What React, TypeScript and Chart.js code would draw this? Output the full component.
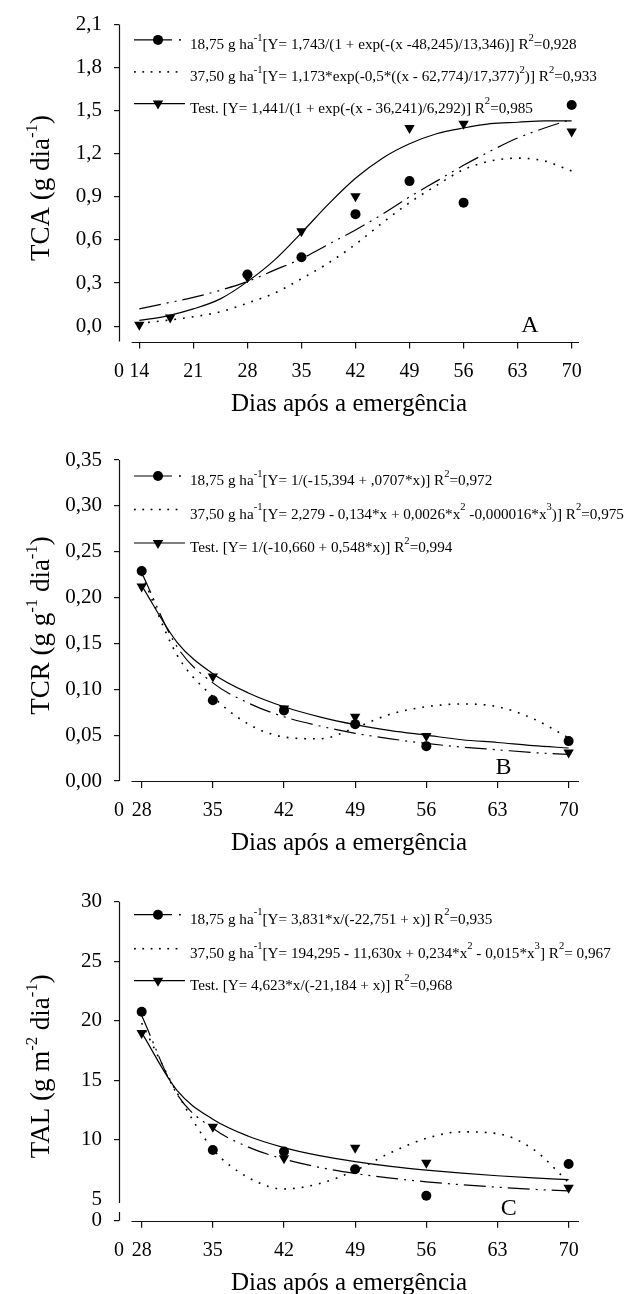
import React, { useEffect, useRef } from "react";
import { Chart, registerables } from "chart.js";

Chart.register(...registerables);

const FAMILY = "'Liberation Serif', 'Times New Roman', Times, serif";

// ---------------- Panel A : TCA ----------------
const tcaFitDays = [14, 17.5, 21, 24.5, 28, 31.5, 35, 38.5, 42, 45.5, 49, 52.5, 56, 59.5, 63, 66.5, 70];
const tcaDays1875 = [28, 35, 42, 49, 56, 70];
const tca1875 = [0.36, 0.48, 0.78, 1.01, 0.86, 1.54];
const tcaDaysTest = [14, 18, 28, 35, 42, 49, 56, 70];
const tcaTest = [0.01, 0.06, 0.34, 0.66, 0.905, 1.38, 1.41, 1.355];
const tcaFit1875 = [0.12, 0.16, 0.2, 0.25, 0.31, 0.39, 0.47, 0.57, 0.67, 0.78, 0.9, 1.01, 1.12, 1.22, 1.31, 1.38, 1.44];
const tcaFit3750 = [0.02, 0.04, 0.065, 0.1, 0.16, 0.23, 0.33, 0.44, 0.57, 0.72, 0.86, 0.98, 1.09, 1.15, 1.17, 1.15, 1.08];
const tcaFitTest = [0.04, 0.07, 0.12, 0.19, 0.31, 0.46, 0.65, 0.85, 1.03, 1.17, 1.27, 1.34, 1.38, 1.41, 1.42, 1.43, 1.43];
const tcaXTicks = [14, 21, 28, 35, 42, 49, 56, 63, 70];
const tcaYTicks = [0, 0.3, 0.6, 0.9, 1.2, 1.5, 1.8, 2.1];
const tcaLegend = [
  "18,75 g ha^{-1}[Y= 1,743/(1 + exp(-(x -48,245)/13,346)] R^{2}=0,928",
  "37,50 g ha^{-1}[Y= 1,173*exp(-0,5*((x - 62,774)/17,377)^{2})] R^{2}=0,933",
  "Test. [Y= 1,441/(1 + exp(-(x - 36,241)/6,292)] R^{2}=0,985",
];

// ---------------- Panels B and C share days ----------------
const bcObsDays = [28, 35, 42, 49, 56, 70];
const bcFitDays = [28, 31.5, 35, 38.5, 42, 45.5, 49, 52.5, 56, 59.5, 63, 66.5, 70];
const bcXTicks = [28, 35, 42, 49, 56, 63, 70];

// ---------------- Panel B : TCR ----------------
const tcr1875 = [0.229, 0.088, 0.077, 0.062, 0.038, 0.0435];
const tcrTest = [0.212, 0.114, 0.079, 0.07, 0.049, 0.031];
const tcrFit1875 = [0.227, 0.146, 0.107, 0.085, 0.07, 0.06, 0.052, 0.046, 0.041, 0.037, 0.034, 0.031, 0.029];
const tcrFit3750 = [0.225, 0.137, 0.092, 0.062, 0.048, 0.046, 0.058, 0.073, 0.081, 0.084, 0.081, 0.068, 0.047];
const tcrFitTest = [0.213, 0.151, 0.117, 0.096, 0.081, 0.07, 0.0615, 0.055, 0.05, 0.045, 0.042, 0.0385, 0.036];
const tcrYTicks = [0, 0.05, 0.1, 0.15, 0.2, 0.25, 0.3, 0.35];
const tcrLegend = [
  "18,75 g ha^{-1}[Y= 1/(-15,394 + ,0707*x)] R^{2}=0,972",
  "37,50 g ha^{-1}[Y= 2,279 - 0,134*x + 0,0026*x^{2} -0,000016*x^{3})] R^{2}=0,975",
  "Test. [Y= 1/(-10,660 + 0,548*x)] R^{2}=0,994",
];

// ---------------- Panel C : TAL ----------------
const tal1875 = [20.75, 9.12, 9.0, 7.5, 5.28, 7.94];
const talTest = [18.97, 11.08, 8.42, 9.31, 8.05, 5.95];
const talFit1875 = [20.43, 13.79, 10.95, 9.37, 8.36, 7.66, 7.15, 6.76, 6.45, 6.2, 6.0, 5.82, 5.68];
const talFit3750 = [19.8, 13.9, 9.2, 6.8, 5.85, 6.3, 7.4, 8.9, 10.1, 10.65, 10.5, 9.2, 6.4];
const talFitTest = [18.99, 14.11, 11.71, 10.28, 9.33, 8.65, 8.15, 7.75, 7.44, 7.18, 6.96, 6.78, 6.63];
const talYTicks = [5, 10, 15, 20, 25, 30];
const talLegend = [
  "18,75 g ha^{-1}[Y= 3,831*x/(-22,751 + x)] R^{2}=0,935",
  "37,50 g ha^{-1}[Y= 194,295 - 11,630x + 0,234*x^{2} - 0,015*x^{3}] R^{2}= 0,967",
  "Test. [Y= 4,623*x/(-21,184 + x)] R^{2}=0,968",
];

const X_TITLE = "Dias após a emergência";

type PanelCfg = {
  canvasTop: number;
  canvasHeight: number;
  padTop: number;
  xAxisHeight: number;
  xMin: number;
  xMax: number;
  xLineStart: number;
  xTicks: number[];
  yMin: number;
  yMax: number;
  yTicks: number[];
  yDecimals: number;
  yZeroAtMin: boolean;
  yHiddenTick: number | null;
  yBreak: [number, number] | null;
  yTitle: string;
  letter: string;
  letterPos: [number, number];
  legend: string[];
  legendRows: number[];
  days1875: number[];
  obs1875: number[];
  daysTest: number[];
  obsTest: number[];
  fitDays: number[];
  fit1875: number[];
  fit3750: number[];
  fitTest: number[];
};

function font(size: number) {
  return `${size}px ${FAMILY}`;
}

function parseRich(s: string) {
  const out: { t: string; sup: boolean }[] = [];
  const re = /\^\{([^}]*)\}/g;
  let last = 0;
  let m: RegExpExecArray | null;
  while ((m = re.exec(s))) {
    if (m.index > last) out.push({ t: s.slice(last, m.index), sup: false });
    out.push({ t: m[1], sup: true });
    last = re.lastIndex;
  }
  if (last < s.length) out.push({ t: s.slice(last), sup: false });
  return out;
}

function drawRich(
  ctx: CanvasRenderingContext2D,
  text: string,
  x: number,
  y: number,
  size: number,
  align: "left" | "center",
  supScale: number,
  supRaise: number
) {
  const segs = parseRich(text);
  const widths = segs.map((s) => {
    ctx.font = font(s.sup ? size * supScale : size);
    return ctx.measureText(s.t).width;
  });
  const total = widths.reduce((a, b) => a + b, 0);
  let cx = align === "center" ? x - total / 2 : x;
  ctx.textAlign = "left";
  ctx.textBaseline = "alphabetic";
  segs.forEach((s, i) => {
    ctx.font = font(s.sup ? size * supScale : size);
    ctx.fillText(s.t, cx, s.sup ? y - size * supRaise : y);
    cx += widths[i];
  });
}

function pts(xs: number[], ys: number[]) {
  return xs.map((x, i) => ({ x, y: ys[i] }));
}

function fmt(v: number, d: number) {
  return v.toFixed(d).replace(".", ",");
}

function makePlugin(cfg: PanelCfg) {
  return {
    id: "paperDecor",
    afterDraw(chart: any) {
      const ctx: CanvasRenderingContext2D = chart.ctx;
      const area = chart.chartArea;
      const xs = chart.scales.x;
      const ys = chart.scales.y;
      ctx.save();
      ctx.strokeStyle = "#111";
      ctx.fillStyle = "#000";
      ctx.lineWidth = 1.2;
      // y axis line (with optional break)
      const ax = Math.round(area.left) + 0.5;
      ctx.beginPath();
      if (cfg.yBreak) {
        const gTop = ys.getPixelForValue(cfg.yBreak[1]);
        const gBot = ys.getPixelForValue(cfg.yBreak[0]);
        ctx.moveTo(ax, area.top);
        ctx.lineTo(ax, gTop);
        ctx.moveTo(ax, gBot);
        ctx.lineTo(ax, area.bottom);
      } else {
        ctx.moveTo(ax, area.top);
        ctx.lineTo(ax, area.bottom);
      }
      ctx.stroke();
      // x axis line, detached from y axis
      const by = Math.round(area.bottom) + 0.5;
      ctx.beginPath();
      ctx.moveTo(xs.getPixelForValue(cfg.xLineStart), by);
      ctx.lineTo(area.right, by);
      ctx.stroke();

      // x title
      ctx.fillStyle = "#000";
      ctx.font = font(25);
      ctx.textAlign = "center";
      ctx.textBaseline = "alphabetic";
      ctx.fillText(X_TITLE, (area.left + area.right) / 2, area.bottom + 69);

      // y title (rotated)
      ctx.save();
      ctx.translate(49, (area.top + area.bottom) / 2 + 5);
      ctx.rotate(-Math.PI / 2);
      drawRich(ctx, cfg.yTitle, 0, 0, 27, "center", 0.62, 0.45);
      ctx.restore();

      // panel letter
      ctx.font = font(24);
      ctx.textAlign = "center";
      ctx.textBaseline = "alphabetic";
      ctx.fillText(cfg.letter, xs.getPixelForValue(cfg.letterPos[0]), ys.getPixelForValue(cfg.letterPos[1]));

      // legend
      const sx = area.left + 15;
      const tx = area.left + 71;
      cfg.legend.forEach((txt, i) => {
        const ry = area.top + cfg.legendRows[i];
        ctx.strokeStyle = "#000";
        ctx.fillStyle = "#000";
        ctx.lineWidth = 1.2;
        if (i === 0) {
          ctx.beginPath();
          ctx.moveTo(sx, ry);
          ctx.lineTo(sx + 38, ry);
          ctx.stroke();
          ctx.fillRect(sx + 45, ry - 0.8, 1.8, 1.6);
          ctx.beginPath();
          ctx.arc(sx + 24, ry, 5, 0, Math.PI * 2);
          ctx.fill();
        } else if (i === 1) {
          for (let k = 0; k < 6; k++) ctx.fillRect(sx + k * 8.33, ry - 0.8, 1.8, 1.6);
        } else {
          ctx.beginPath();
          ctx.moveTo(sx, ry);
          ctx.lineTo(sx + 51, ry);
          ctx.stroke();
          const cx = sx + 24;
          ctx.beginPath();
          ctx.moveTo(cx, ry + 6);
          ctx.lineTo(cx - 5.2, ry - 3);
          ctx.lineTo(cx + 5.2, ry - 3);
          ctx.closePath();
          ctx.fill();
        }
        drawRich(ctx, txt, tx, ry + 9, 15.2, "left", 0.7, 0.55);
      });
      ctx.restore();
    },
  };
}

function buildConfig(cfg: PanelCfg): any {
  const xTickVals = [cfg.xMin, ...cfg.xTicks];
  const yTickVals = cfg.yZeroAtMin ? [cfg.yMin, ...cfg.yTicks] : cfg.yTicks;
  return {
    type: "scatter",
    data: {
      datasets: [
        {
          label: "18,75 g ha-1",
          data: pts(cfg.days1875, cfg.obs1875),
          pointStyle: "circle",
          pointRadius: 5,
          backgroundColor: "#000",
          borderColor: "#000",
          borderWidth: 0,
          showLine: false,
          order: 0,
        },
        {
          label: "Test.",
          data: pts(cfg.daysTest, cfg.obsTest),
          pointStyle: "triangle",
          pointRotation: 180,
          pointRadius: 6,
          backgroundColor: "#000",
          borderColor: "#000",
          borderWidth: 0,
          showLine: false,
          order: 0,
        },
        {
          label: "18,75 fit",
          data: pts(cfg.fitDays, cfg.fit1875),
          showLine: true,
          pointRadius: 0,
          borderColor: "#000",
          borderWidth: 1.2,
          borderDash: [22, 6, 2, 6, 2, 6],
          cubicInterpolationMode: "monotone",
          order: 1,
        },
        {
          label: "37,50 fit",
          data: pts(cfg.fitDays, cfg.fit3750),
          showLine: true,
          pointRadius: 0,
          borderColor: "#000",
          borderWidth: 1.6,
          borderDash: [1.8, 7],
          cubicInterpolationMode: "monotone",
          order: 1,
        },
        {
          label: "Test. fit",
          data: pts(cfg.fitDays, cfg.fitTest),
          showLine: true,
          pointRadius: 0,
          borderColor: "#000",
          borderWidth: 1.2,
          cubicInterpolationMode: "monotone",
          order: 1,
        },
      ],
    },
    options: {
      responsive: false,
      animation: false,
      events: [],
      layout: { autoPadding: false, padding: { top: cfg.padTop, right: 49, left: 0, bottom: 0 } },
      plugins: { legend: { display: false }, tooltip: { enabled: false }, title: { display: false } },
      scales: {
        x: {
          type: "linear",
          position: "bottom",
          min: cfg.xMin,
          max: cfg.xMax,
          afterFit: (s: any) => {
            s.height = cfg.xAxisHeight;
          },
          afterBuildTicks: (s: any) => {
            s.ticks = xTickVals.map((v) => ({ value: v }));
          },
          ticks: {
            autoSkip: false,
            maxRotation: 0,
            minRotation: 0,
            padding: 11,
            color: "#000",
            font: { family: FAMILY, size: 20 },
            callback: (v: number) => (v === cfg.xMin ? "0" : String(v)),
          },
          grid: {
            drawOnChartArea: false,
            drawTicks: true,
            tickLength: 7,
            lineWidth: 1.2,
            tickColor: (c: any) => (c.index === 0 ? "rgba(0,0,0,0)" : "#111"),
          },
          border: { display: false },
        },
        y: {
          type: "linear",
          position: "left",
          min: cfg.yMin,
          max: cfg.yMax,
          afterFit: (s: any) => {
            s.width = 119;
          },
          afterBuildTicks: (s: any) => {
            s.ticks = yTickVals.map((v) => ({ value: v }));
          },
          ticks: {
            autoSkip: false,
            padding: 12,
            color: "#000",
            font: { family: FAMILY, size: 21 },
            callback: (v: number) => (cfg.yZeroAtMin && v === cfg.yMin ? "0" : fmt(v, cfg.yDecimals)),
          },
          grid: {
            drawOnChartArea: false,
            drawTicks: true,
            tickLength: 5,
            lineWidth: 1.2,
            tickColor: (c: any) =>
              cfg.yHiddenTick !== null && c.tick && c.tick.value === cfg.yHiddenTick ? "rgba(0,0,0,0)" : "#111",
          },
          border: { display: false },
        },
      },
    },
    plugins: [makePlugin(cfg)],
  };
}

const panelA: PanelCfg = {
  canvasTop: 0,
  canvasHeight: 430,
  padTop: 22,
  xAxisHeight: 88.5,
  xMin: 11.37,
  xMax: 70.95,
  xLineStart: 13,
  xTicks: tcaXTicks,
  yMin: -0.107,
  yMax: 2.1,
  yTicks: tcaYTicks,
  yDecimals: 1,
  yZeroAtMin: false,
  yHiddenTick: null,
  yBreak: null,
  yTitle: "TCA (g dia^{-1})",
  letter: "A",
  letterPos: [64.6, -0.044],
  legend: tcaLegend,
  legendRows: [15.3, 47.3, 79],
  days1875: tcaDays1875,
  obs1875: tca1875,
  daysTest: tcaDaysTest,
  obsTest: tcaTest,
  fitDays: tcaFitDays,
  fit1875: tcaFit1875,
  fit3750: tcaFit3750,
  fitTest: tcaFitTest,
};

const panelB: PanelCfg = {
  canvasTop: 420,
  canvasHeight: 440,
  padTop: 40,
  xAxisHeight: 79,
  xMin: 25.77,
  xMax: 71.02,
  xLineStart: 27,
  xTicks: bcXTicks,
  yMin: 0,
  yMax: 0.35,
  yTicks: tcrYTicks,
  yDecimals: 2,
  yZeroAtMin: false,
  yHiddenTick: null,
  yBreak: null,
  yTitle: "TCR (g g^{-1} dia^{-1})",
  letter: "B",
  letterPos: [63.6, 0.0076],
  legend: tcrLegend,
  legendRows: [16, 49.5, 83],
  days1875: bcObsDays,
  obs1875: tcr1875,
  daysTest: bcObsDays,
  obsTest: tcrTest,
  fitDays: bcFitDays,
  fit1875: tcrFit1875,
  fit3750: tcrFit3750,
  fitTest: tcrFitTest,
};

const panelC: PanelCfg = {
  canvasTop: 850,
  canvasHeight: 444,
  padTop: 51.7,
  xAxisHeight: 73.3,
  xMin: 25.77,
  xMax: 71.02,
  xLineStart: 27,
  xTicks: bcXTicks,
  yMin: 3.18,
  yMax: 30,
  yTicks: talYTicks,
  yDecimals: 0,
  yZeroAtMin: true,
  yHiddenTick: 5,
  yBreak: [3.91, 4.66],
  yTitle: "TAL (g m^{-2} dia^{-1})",
  letter: "C",
  letterPos: [64.1, 3.66],
  legend: talLegend,
  legendRows: [13, 47, 79],
  days1875: bcObsDays,
  obs1875: tal1875,
  daysTest: bcObsDays,
  obsTest: talTest,
  fitDays: bcFitDays,
  fit1875: talFit1875,
  fit3750: talFit3750,
  fitTest: talFitTest,
};

function Panel({ cfg }: { cfg: PanelCfg }) {
  const ref = useRef<HTMLCanvasElement>(null);
  useEffect(() => {
    if (!ref.current) return;
    const chart = new Chart(ref.current, buildConfig(cfg));
    return () => chart.destroy();
  }, [cfg]);
  return (
    <canvas
      ref={ref}
      width={628}
      height={cfg.canvasHeight}
      style={{ position: "absolute", left: 0, top: cfg.canvasTop, width: 628, height: cfg.canvasHeight, display: "block" }}
    />
  );
}

export default function App() {
  return (
    <div style={{ position: "absolute", left: 0, top: 0, width: 628, height: 1294, background: "#fff", overflow: "hidden" }}>
      <Panel cfg={panelA} />
      <Panel cfg={panelB} />
      <Panel cfg={panelC} />
    </div>
  );
}
